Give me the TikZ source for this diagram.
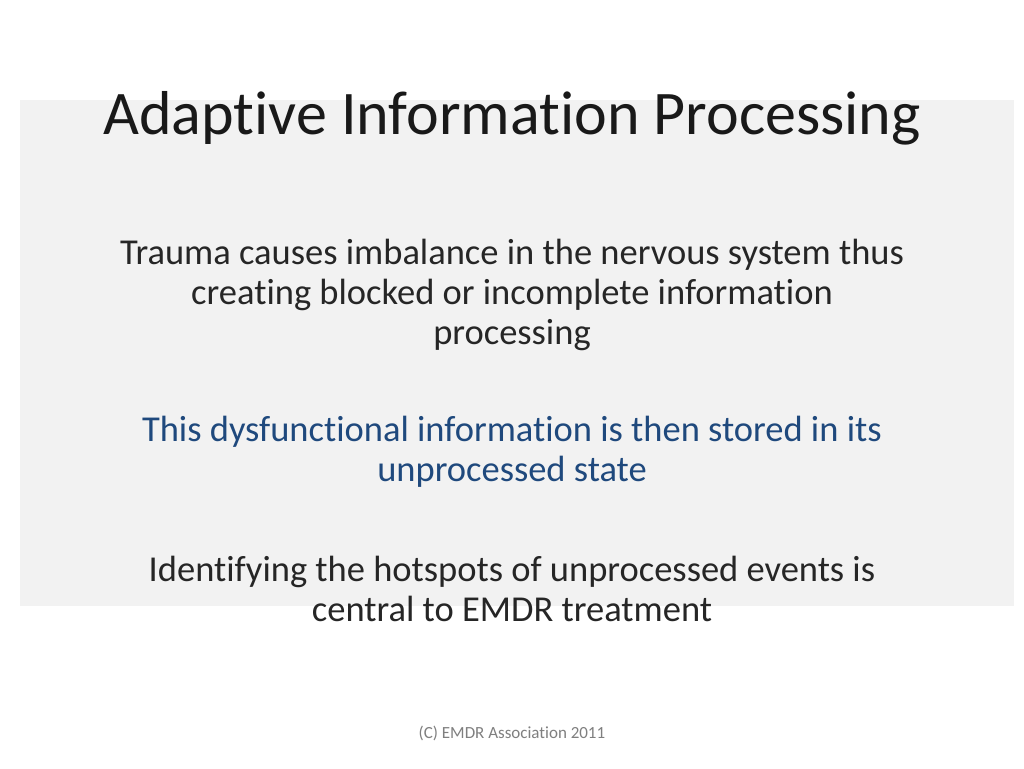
\documentclass[tikz,border=0pt]{standalone}
\usepackage{fontspec}
\setmainfont[Ligatures=NoCommon]{Carlito}
\definecolor{bluet}{HTML}{1F497D}
\definecolor{panel}{HTML}{F2F2F2}
\definecolor{foot}{HTML}{7F7F7F}
\begin{document}
\begin{tikzpicture}[x=1pt,y=-1pt,
  body/.style={align=center,font=\fontsize{36.5}{40}\selectfont,text=black!85}]
\useasboundingbox (0,0) rectangle (1024,768);
\fill[white] (0,0) rectangle (1024,768);
\fill[panel] (20,100) rectangle (1014,606);
\node[font=\fontsize{62}{70}\selectfont,text=black!90] (title) at (512,118) {Adaptive Information Processing};
\node[body] (p1) at (512,295) {Trauma causes imbalance in the nervous system thus\\creating blocked or incomplete information\\processing};
\node[body,text=bluet] (p2) at (512,452) {This dysfunctional information is then stored in its\\unprocessed state};
\node[body] (p3) at (512,589) {Identifying the hotspots of unprocessed events is\\central to EMDR treatment};
\node[font=\fontsize{17}{20}\selectfont,text=foot] (ft) at (512,733) {(C) EMDR Association 2011};
\end{tikzpicture}
\end{document}
